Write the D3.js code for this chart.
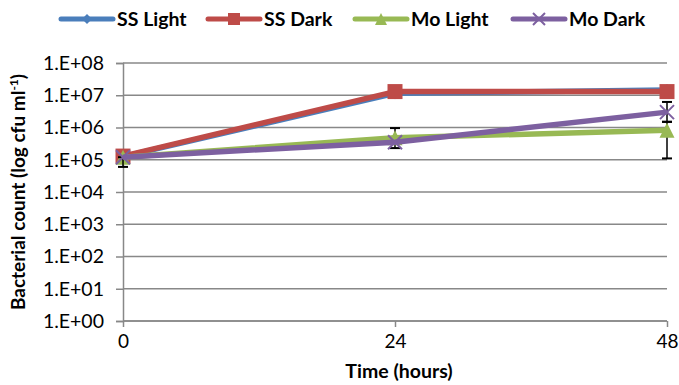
<!DOCTYPE html>
<html>
<head>
<meta charset="utf-8">
<script src="https://cdn.jsdelivr.net/npm/d3@7"></script>
<style>
  body { margin: 0; background: #fff; }
  text { font-family: Lato, "Open Sans", sans-serif; fill: #000; }
</style>
</head>
<body>
<div id="chart"></div>
<script>
var hours = [0, 24, 48];
var seriesNames = ["SS Light", "SS Dark", "Mo Light", "Mo Dark"];
var ssLight = [1.25e5, 1.15e7, 1.45e7];
var ssDark = [1.3e5, 1.3e7, 1.3e7];
var moLight = [1.2e5, 4.8e5, 8.2e5];
var moDark = [1.2e5, 3.5e5, 3.0e6];
// error bars as [low, high], null where none is drawn
var ssLightErr = [null, null, null];
var ssDarkErr = [null, null, null];
var moLightErr = [null, [2.3e5, 9.6e5], [1.1e5, 1.5e6]];
var moDarkErr = [[6e4, 1.2e5], null, [1.5e6, 6.2e6]];
var yTicks = [1, 1e1, 1e2, 1e3, 1e4, 1e5, 1e6, 1e7, 1e8];
var yTickLabels = ["1.E+00", "1.E+01", "1.E+02", "1.E+03", "1.E+04", "1.E+05", "1.E+06", "1.E+07", "1.E+08"];

var colors = ["#4A7EBB", "#BE4B48", "#98B954", "#7D60A0"];
var markers = ["diamond", "square", "triangle", "cross"];
var values = [ssLight, ssDark, moLight, moDark];
var errs = [ssLightErr, ssDarkErr, moLightErr, moDarkErr];

var W = 679, H = 385;
var margin = {top: 63, right: 12, bottom: 64, left: 123},
    width = W - margin.left - margin.right,
    height = H - margin.top - margin.bottom;

var svg = d3.select("#chart").append("svg")
    .attr("width", W).attr("height", H);

var g = svg.append("g")
    .attr("transform", "translate(" + margin.left + "," + margin.top + ")");

var x = d3.scaleLinear().domain([0, 48]).range([0, width]);
var y = d3.scaleLog().domain([1, 1e8]).range([height, 0]);

// gridlines
g.selectAll(".grid").data(yTicks).enter().append("line")
    .attr("x1", 0).attr("x2", width)
    .attr("y1", function(d) { return y(d); })
    .attr("y2", function(d) { return y(d); })
    .attr("stroke", "#888").attr("stroke-width", 1.5);

var yAxis = d3.axisLeft(y).tickValues(yTicks)
    .tickFormat(function(d, i) { return yTickLabels[i]; })
    .tickSize(7).tickPadding(12);
var yg = g.append("g").call(yAxis);
yg.select(".domain").attr("stroke", "#888").attr("stroke-width", 1.5);
yg.selectAll(".tick line").attr("stroke", "#888").attr("stroke-width", 1.5);
yg.selectAll(".tick text").style("font-size", "19.5px").attr("fill", "#000");

var xAxis = d3.axisBottom(x).tickValues(hours).tickSize(6).tickPadding(8);
var xg = g.append("g").attr("transform", "translate(0," + height + ")").call(xAxis);
xg.select(".domain").attr("stroke", "#888").attr("stroke-width", 1.5)
    .attr("d", "M0,0H" + width);
xg.selectAll(".tick line").attr("stroke", "#888").attr("stroke-width", 1.5);
xg.selectAll(".tick text").style("font-size", "19px").attr("fill", "#000");

// axis titles
svg.append("text")
    .attr("x", 399).attr("y", 378)
    .attr("text-anchor", "middle")
    .style("font-size", "19.5px").style("font-weight", "bold")
    .text("Time (hours)");

var yt = svg.append("text")
    .attr("transform", "translate(25," + (margin.top + height / 2) + ") rotate(-90)")
    .attr("text-anchor", "middle")
    .style("font-size", "19px").style("font-weight", "bold");
yt.append("tspan").text("Bacterial count (log cfu  ml");
yt.append("tspan").attr("baseline-shift", "super").style("font-size", "12px").text("-1");
yt.append("tspan").text(")");

function markerPath(type, s) {
  if (type === "diamond") return "M0," + (-s) + "L" + s + ",0L0," + s + "L" + (-s) + ",0Z";
  if (type === "square") return "M" + (-s) + "," + (-s) + "H" + s + "V" + s + "H" + (-s) + "Z";
  if (type === "triangle") return "M0," + (-s) + "L" + s + "," + s + "L" + (-s) + "," + s + "Z";
  return "M" + (-s) + "," + (-s) + "L" + s + "," + s + "M" + s + "," + (-s) + "L" + (-s) + "," + s;
}
var markerSize = [6, 7.5, 7.5, 7];
var legendMarkerSize = [5, 6, 6, 6];

var line = d3.line()
    .x(function(d, i) { return x(hours[i]); })
    .y(function(d) { return y(d); });

values.forEach(function(vals, si) {
  var sg = g.append("g");
  // error bars
  errs[si].forEach(function(e, i) {
    if (!e) return;
    var cx = x(hours[i]);
    sg.append("line").attr("x1", cx).attr("x2", cx)
        .attr("y1", y(e[0])).attr("y2", y(e[1]))
        .attr("stroke", "#000").attr("stroke-width", 1.5);
    [e[0], e[1]].forEach(function(v) {
      sg.append("line").attr("x1", cx - 5).attr("x2", cx + 5)
          .attr("y1", y(v)).attr("y2", y(v))
          .attr("stroke", "#000").attr("stroke-width", 2);
    });
  });
  sg.append("path").datum(vals)
      .attr("d", line)
      .attr("fill", "none")
      .attr("stroke", colors[si]).attr("stroke-width", 5.5)
      .attr("stroke-linejoin", "round");
  sg.selectAll(".m").data(vals).enter().append("path")
      .attr("transform", function(d, i) { return "translate(" + x(hours[i]) + "," + y(d) + ")"; })
      .attr("d", markerPath(markers[si], markerSize[si]))
      .attr("fill", markers[si] === "cross" ? "none" : colors[si])
      .attr("stroke", colors[si])
      .attr("stroke-width", markers[si] === "cross" ? 2 : 0);
});

// legend
var legX = [59, 206, 353, 511];
var leg = svg.append("g");
seriesNames.forEach(function(name, i) {
  var lg = leg.append("g").attr("transform", "translate(" + legX[i] + ",19)");
  lg.append("line").attr("x1", 2).attr("x2", 54).attr("y1", 0).attr("y2", 0)
      .attr("stroke", colors[i]).attr("stroke-width", 5).attr("stroke-linecap", "round");
  lg.append("path").attr("transform", "translate(28,0)")
      .attr("d", markerPath(markers[i], legendMarkerSize[i]))
      .attr("fill", markers[i] === "cross" ? "none" : colors[i])
      .attr("stroke", colors[i])
      .attr("stroke-width", markers[i] === "cross" ? 2 : 0);
  lg.append("text").attr("x", 58).attr("y", 7)
      .style("font-size", "19.5px").style("font-weight", "bold")
      .text(name);
});
</script>
</body>
</html>
